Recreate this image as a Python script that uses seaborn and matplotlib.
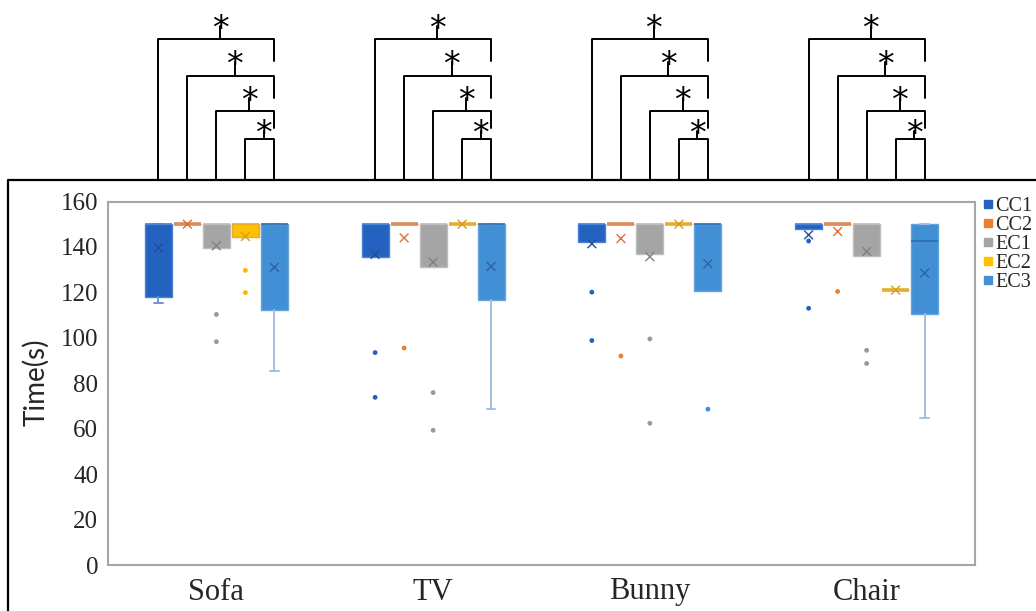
import numpy as np
import pandas as pd
import matplotlib
matplotlib.use("Agg")
import matplotlib.pyplot as plt
from matplotlib.lines import Line2D
from matplotlib.transforms import blended_transform_factory
import seaborn as sns

# ---------------------------------------------------------------- data
categories = ["Sofa", "TV", "Bunny", "Chair"]
series = ["CC1", "CC2", "EC1", "EC2", "EC3"]

# five-number summaries (seconds), one entry per category
cc1_q1 = [118.0, 135.5, 142.0, 147.7]
cc1_med = [150.0, 150.0, 150.0, 150.0]
cc1_q3 = [150.0, 150.0, 150.0, 150.0]
cc1_lo = [115.2, 135.5, 142.0, 147.7]
cc1_hi = [150.0, 150.0, 150.0, 150.0]
cc1_mean = [139.6, 136.7, 141.4, 145.3]
cc1_out = [[], [93.5, 73.8], [120.1, 98.8], [142.6, 113.0]]

cc2_q1 = [150.0, 150.0, 150.0, 150.0]
cc2_med = [150.0, 150.0, 150.0, 150.0]
cc2_q3 = [150.0, 150.0, 150.0, 150.0]
cc2_lo = [150.0, 150.0, 150.0, 150.0]
cc2_hi = [150.0, 150.0, 150.0, 150.0]
cc2_mean = [150.0, 144.0, 143.7, 146.8]
cc2_out = [[], [95.5], [92.0], [120.4]]

ec1_q1 = [139.5, 131.1, 137.1, 135.8]
ec1_med = [150.0, 150.0, 150.0, 150.0]
ec1_q3 = [150.0, 150.0, 150.0, 150.0]
ec1_lo = [139.5, 131.1, 137.1, 135.8]
ec1_hi = [150.0, 150.0, 150.0, 150.0]
ec1_mean = [140.5, 133.3, 135.7, 138.0]
ec1_out = [[110.3, 98.3], [75.9, 59.3], [99.5, 62.4], [94.5, 88.7]]

ec2_q1 = [144.3, 150.0, 150.0, 121.0]
ec2_med = [150.0, 150.0, 150.0, 121.0]
ec2_q3 = [150.0, 150.0, 150.0, 121.0]
ec2_lo = [144.3, 150.0, 150.0, 121.0]
ec2_hi = [150.0, 150.0, 150.0, 121.0]
ec2_mean = [144.6, 150.0, 150.0, 121.0]
ec2_out = [[129.7, 119.9], [], [], []]

ec3_q1 = [112.1, 116.8, 120.4, 110.5]
ec3_med = [150.0, 150.0, 150.0, 142.7]
ec3_q3 = [150.0, 150.0, 150.0, 150.0]
ec3_lo = [85.3, 68.7, 120.4, 64.9]
ec3_hi = [150.0, 150.0, 150.0, 150.0]
ec3_mean = [131.0, 131.4, 132.6, 128.5]
ec3_out = [[], [], [68.6], []]

# significance brackets: each pair compared within every category
sig_pairs = [("CC1", "EC3"), ("CC2", "EC3"), ("EC1", "EC3"), ("EC2", "EC3")]
sig_labels = ["*", "*", "*", "*"]

y_ticks = [0, 20, 40, 60, 80, 100, 120, 140, 160]

# ---------------------------------------------------------------- styling
face = {"CC1": "#2363BF", "CC2": "#ED7D31", "EC1": "#A5A5A5",
        "EC2": "#FFC000", "EC3": "#418FD4"}
edge = {"CC1": "#4A82D3", "CC2": "#DC8A58", "EC1": "#BDBDBD",
        "EC2": "#E5AE2E", "EC3": "#64A4DD"}
whisk = {"CC1": "#6F95D3", "CC2": "#E9A77A", "EC1": "#BDBDBD",
         "EC2": "#F0C860", "EC3": "#A2BEE2"}
med_col = {"CC1": "#4A82D3", "CC2": "#DC8A58", "EC1": "#BDBDBD",
           "EC2": "#E5AE2E", "EC3": "#2F6DB0"}
mean_col = {"CC1": "#234E96", "CC2": "#D9703A", "EC1": "#808080",
            "EC2": "#D99A1E", "EC3": "#2C63A3"}
dot_col = {"CC1": "#2363BF", "CC2": "#ED7D31", "EC1": "#999999",
           "EC2": "#FFB300", "EC3": "#418FD4"}

stats_src = {
    "CC1": (cc1_q1, cc1_med, cc1_q3, cc1_lo, cc1_hi, cc1_mean, cc1_out),
    "CC2": (cc2_q1, cc2_med, cc2_q3, cc2_lo, cc2_hi, cc2_mean, cc2_out),
    "EC1": (ec1_q1, ec1_med, ec1_q3, ec1_lo, ec1_hi, ec1_mean, ec1_out),
    "EC2": (ec2_q1, ec2_med, ec2_q3, ec2_lo, ec2_hi, ec2_mean, ec2_out),
    "EC3": (ec3_q1, ec3_med, ec3_q3, ec3_lo, ec3_hi, ec3_mean, ec3_out),
}

sns.set_theme(style="white")
plt.rcParams["font.family"] = ["Liberation Serif", "DejaVu Serif"]

W, H = 1036, 611
fig = plt.figure(figsize=(W / 100, H / 100), dpi=100)
ax = fig.add_axes([108 / W, 1 - 565 / H, (975 - 108) / W, (565 - 201.5) / H])

step = 0.1338
box_w = 0.1246
offsets = {s: (i - 2) * step for i, s in enumerate(series)}
cat_x = np.arange(len(categories))

mean_rows, out_rows = [], []
for s in series:
    q1, med, q3, lo, hi, mean, outs = stats_src[s]
    stats = []
    caps = []
    for k in range(len(categories)):
        stats.append(dict(q1=q1[k], med=med[k], q3=q3[k], whislo=lo[k],
                          whishi=hi[k], fliers=[], mean=mean[k]))
        caps.append(0.04 if lo[k] < q1[k] else 0.0)
        mean_rows.append((cat_x[k] + offsets[s], mean[k], s))
        for v in outs[k]:
            out_rows.append((cat_x[k] + offsets[s], v, s))
    bp = ax.bxp(stats, positions=cat_x + offsets[s], widths=box_w,
                capwidths=caps, patch_artist=True, showfliers=False,
                showmeans=False, manage_ticks=False,
                boxprops=dict(facecolor=face[s], edgecolor=edge[s], linewidth=1.0),
                medianprops=dict(color=med_col[s], linewidth=1.2),
                whiskerprops=dict(color=whisk[s], linewidth=1.4),
                capprops=dict(color=whisk[s], linewidth=1.4))
    # a box whose quartiles coincide collapses to a single bold line
    for k, mline in enumerate(bp["medians"]):
        if q1[k] == q3[k]:
            mline.set_linewidth(2.6)
            mline.set_color(edge[s])

means = pd.DataFrame(mean_rows, columns=["x", "time", "group"])
outliers = pd.DataFrame(out_rows, columns=["x", "time", "group"])

sns.scatterplot(data=means, x="x", y="time", hue="group", palette=mean_col,
                marker="x", s=40, linewidth=1.0, legend=False, ax=ax, zorder=5)
sns.scatterplot(data=outliers, x="x", y="time", hue="group", palette=dot_col,
                marker="o", s=12, linewidth=0, legend=False, ax=ax, zorder=5)

ax.set_xlim(-0.5, len(categories) - 0.5)
ax.set_ylim(0, 160)
ax.set_yticks(y_ticks)
ax.set_yticklabels([str(t) for t in y_ticks], fontsize=18)
ax.set_xticks(cat_x)
ax.set_xticklabels(categories, fontsize=22)
ax.tick_params(axis="y", length=0, pad=7)
ax.tick_params(axis="x", length=0, pad=9)
ax.set_xlabel("")
ax.set_ylabel("")
for sp in ax.spines.values():
    sp.set_color("#A6A6A6")
    sp.set_linewidth(1.5)

fig.text(36 / W, 1 - 382 / H, "Time(s)", rotation=90, ha="center",
         va="center", fontsize=20, family=["Lato", "DejaVu Sans"])

# legend
handles = [Line2D([], [], ls="", marker="s", markersize=5.5,
                  markerfacecolor=face[s], markeredgecolor=face[s])
           for s in series]
fig.legend(handles, series, loc="upper left",
           bbox_to_anchor=(982 / W, 1 - 197 / H), frameon=False,
           fontsize=14.5, handlelength=0.6, handletextpad=0.05,
           labelspacing=0.0, borderpad=0, borderaxespad=0)

# outer chart border (top and left edges)
fig.add_artist(Line2D([8 / W, 8 / W, 1.0], [0.0, 1 - 180 / H, 1 - 180 / H],
                      transform=fig.transFigure, color="black", lw=1.6))

# significance brackets above each category
tr = blended_transform_factory(ax.transData, fig.transFigure)
base_y = 180
bar_y = [38.5, 76, 111.5, 138.5]
right_end = [61, 98, 128, 180]
star_y = [20, 56, 92, 125]

def fy(p):
    return 1 - p / H

for k in range(len(categories)):
    for j, (a, b) in enumerate(sig_pairs):
        xa = cat_x[k] + offsets[a]
        xb = cat_x[k] + offsets[b]
        ln = Line2D([xa, xa, xb, xb],
                    [fy(base_y), fy(bar_y[j]), fy(bar_y[j]), fy(right_end[j])],
                    transform=tr, color="black", lw=1.4, clip_on=False)
        fig.add_artist(ln)
        xm = (xa + xb) / 2 + 0.018
        fig.add_artist(Line2D([xm, xm], [fy(bar_y[j]), fy(star_y[j] + 6)],
                              transform=tr, color="black", lw=1.4))
        # asterisk glyph sits ~0.57 em above the baseline
        fig.text(xm, fy(star_y[j] + 19), sig_labels[j], transform=tr,
                 ha="center", va="baseline", fontsize=24,
                 family=["DejaVu Sans"], color="black")

fig.savefig("out.png", dpi=100)
